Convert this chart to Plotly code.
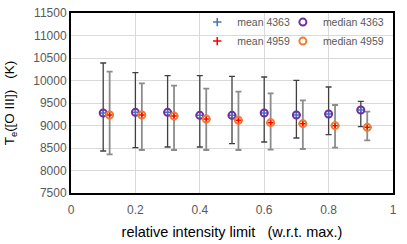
import plotly.graph_objects as go

x_4363 = [0.1, 0.2, 0.3, 0.4, 0.5, 0.6, 0.7, 0.8, 0.9]
x_4959 = [0.12, 0.22, 0.32, 0.42, 0.52, 0.62, 0.72, 0.82, 0.92]

median_4363 = [9278, 9293, 9293, 9226, 9226, 9278, 9233, 9256, 9344]
mean_4363 = [9278, 9293, 9293, 9226, 9226, 9278, 9233, 9256, 9344]
upper_4363 = [10389, 10174, 10107, 10107, 10093, 10078, 10004, 9856, 9537]
lower_4363 = [8433, 8508, 8522, 8522, 8596, 8633, 8722, 8796, 8974]

median_4959 = [9233, 9233, 9211, 9144, 9115, 9063, 9041, 8996, 8959]
mean_4959 = [9233, 9233, 9211, 9144, 9115, 9063, 9041, 8996, 8959]
upper_4959 = [10196, 9937, 9885, 9819, 9752, 9715, 9559, 9456, 9307]
lower_4959 = [8359, 8456, 8456, 8456, 8456, 8463, 8478, 8508, 8670]

y_ticks = [7500, 8000, 8500, 9000, 9500, 10000, 10500, 11000, 11500]
y_tick_labels = [str(v) for v in y_ticks]
x_ticks = [0, 0.2, 0.4, 0.6, 0.8, 1]
x_tick_labels = ["0", "0.2", "0.4", "0.6", "0.8", "1"]

err_hi_4363 = [u - m for u, m in zip(upper_4363, mean_4363)]
err_lo_4363 = [m - l for m, l in zip(mean_4363, lower_4363)]
err_hi_4959 = [u - m for u, m in zip(upper_4959, mean_4959)]
err_lo_4959 = [m - l for m, l in zip(mean_4959, lower_4959)]

fig = go.Figure()

fig.add_trace(go.Scatter(
    x=x_4363, y=mean_4363, mode="markers", name="mean 4363",
    marker=dict(symbol="cross-thin", size=6, line=dict(color="#4472C4", width=1.5), color="#4472C4"),
    error_y=dict(type="data", symmetric=False, array=err_hi_4363, arrayminus=err_lo_4363,
                 color="#404040", thickness=1.3, width=3),
    legend="legend",
))
fig.add_trace(go.Scatter(
    x=x_4959, y=mean_4959, mode="markers", name="mean 4959",
    marker=dict(symbol="cross-thin", size=6, line=dict(color="#FF0000", width=1.5), color="#FF0000"),
    error_y=dict(type="data", symmetric=False, array=err_hi_4959, arrayminus=err_lo_4959,
                 color="#8C8C8C", thickness=1.8, width=3),
    legend="legend",
))
fig.add_trace(go.Scatter(
    x=x_4363, y=median_4363, mode="markers", name="median 4363",
    marker=dict(symbol="circle-open", size=7, line=dict(color="#7030A0", width=2), color="#7030A0"),
    legend="legend2",
))
fig.add_trace(go.Scatter(
    x=x_4959, y=median_4959, mode="markers", name="median 4959",
    marker=dict(symbol="circle-open", size=7, line=dict(color="#ED7D31", width=2), color="#ED7D31"),
    legend="legend2",
))

legend_common = dict(
    bgcolor="rgba(255,255,255,0)", font=dict(size=10.5, color="#595959", family="Liberation Sans"),
    itemwidth=30, tracegroupgap=0, yanchor="top", xanchor="left",
)

fig.update_layout(
    width=407, height=244,
    margin=dict(l=71, r=14, t=13, b=51, autoexpand=False),
    paper_bgcolor="white", plot_bgcolor="white",
    font=dict(family="Liberation Sans", size=12, color="#595959"),
    showlegend=True,
    legend=dict(x=0.392, y=1.03, **legend_common),
    legend2=dict(x=0.658, y=1.03, **legend_common),
    xaxis=dict(
        range=[0, 1], tickvals=x_ticks, ticktext=x_tick_labels,
        showgrid=True, gridcolor="#D9D9D9", gridwidth=1, zeroline=False,
        showline=True, linecolor="black", linewidth=2, mirror=True,
        ticks="outside", ticklen=5, tickcolor="rgba(0,0,0,0)",
        tickfont=dict(size=12, color="#595959"), automargin=False,
        title=dict(text="relative intensity limit\u00a0\u00a0\u00a0(w.r.t. max.)",
                   font=dict(size=14.5, color="black"), standoff=10),
    ),
    yaxis=dict(
        range=[7500, 11500], tickvals=y_ticks, ticktext=y_tick_labels,
        showgrid=True, gridcolor="#D9D9D9", gridwidth=1, zeroline=False,
        showline=True, linecolor="black", linewidth=2, mirror=True,
        ticks="", tickfont=dict(size=12, color="#595959"), automargin=False,
        title=dict(text="T<sub>e</sub>([O III])\u00a0\u00a0\u00a0(K)",
                   font=dict(size=13.5, color="black")),
    ),
)

fig.write_html("out.html", config={"displayModeBar": False},
               post_script="document.body.style.margin='0px';document.body.style.overflow='hidden';")
